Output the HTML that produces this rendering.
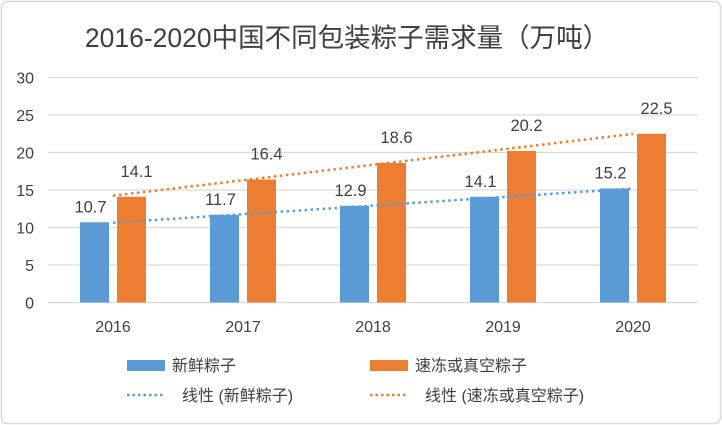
<!DOCTYPE html>
<html><head><meta charset="utf-8"><style>
body{margin:0;background:#fff;}
svg{display:block;font-family:"Liberation Sans","Noto Sans CJK SC",sans-serif;}
</style></head><body>
<svg id="chart" width="722" height="425" viewBox="0 0 722 425">
<rect x="1.5" y="1.5" width="719" height="422" rx="6" fill="#fff" stroke="#d9d9d9" stroke-width="1.5"/>
<text x="347" y="47" text-anchor="middle" font-size="26.5" fill="#404040">2016-2020中国不同包装粽子需求量（万吨）</text>
<g id="grid"></g><g id="bars"></g><g id="trends"></g><g id="labels"></g>
<g>
<rect x="127" y="360" width="38" height="11" fill="#5b9bd5"/>
<text x="172" y="371" font-size="16" fill="#404040">新鲜粽子</text>
<rect x="370" y="360" width="38" height="11" fill="#ed7d31"/>
<text x="415" y="371" font-size="16" fill="#404040">速冻或真空粽子</text>
<line x1="127" y1="395" x2="165" y2="395" stroke="#5b9bd5" stroke-width="2.5" stroke-dasharray="2.5 3"/>
<text x="182" y="401" font-size="16" fill="#404040">线性 (新鲜粽子)</text>
<line x1="370" y1="395" x2="408" y2="395" stroke="#ed7d31" stroke-width="2.5" stroke-dasharray="2.5 3"/>
<text x="425" y="401" font-size="16" fill="#404040">线性 (速冻或真空粽子)</text>
</g>
</svg>
<script>
const categories=["2016","2017","2018","2019","2020"];
const freshValues=[10.7,11.7,12.9,14.1,15.2];
const frozenValues=[14.1,16.4,18.6,20.2,22.5];
const yTicks=[0,5,10,15,20,25,30];
const NS="http://www.w3.org/2000/svg";
const plotL=48,plotR=698,y0=302.5,yTop=77.5,yMax=30;
const yS=v=>y0-(y0-yTop)*v/yMax;
const band=(plotR-plotL)/categories.length;
const xC=i=>plotL+band*(i+0.5);
function mk(tag,attrs,parent){const e=document.createElementNS(NS,tag);for(const k in attrs)e.setAttribute(k,attrs[k]);parent.appendChild(e);return e;}
const grid=document.getElementById('grid'),bars=document.getElementById('bars'),trends=document.getElementById('trends'),labels=document.getElementById('labels');
yTicks.forEach(t=>{
 const l=mk('line',{x1:plotL,x2:plotR,y1:yS(t),y2:yS(t),stroke:'#d9d9d9','stroke-width':1.3},grid);
 
 
 const tx=mk('text',{x:34,y:yS(t)+6,'text-anchor':'end','font-size':16,fill:'#404040'},grid);
 tx.textContent=t;
 
 
});
const bw=29,gap=8;
categories.forEach((c,i)=>{
 const cx=xC(i);
 const bx1=cx-gap/2-bw, bx2=cx+gap/2;
 const b1=mk('rect',{x:bx1,y:yS(freshValues[i]),width:bw,height:y0-yS(freshValues[i]),fill:'#5b9bd5'},bars);
 
 
 const b2=mk('rect',{x:bx2,y:yS(frozenValues[i]),width:bw,height:y0-yS(frozenValues[i]),fill:'#ed7d31'},bars);
 
 
 const t1=mk('text',{x:bx1+bw/2-4,y:yS(freshValues[i])-10,'text-anchor':'middle','font-size':16.5,fill:'#404040'},labels);
 t1.textContent=freshValues[i].toFixed(1);
 
 
 const t2=mk('text',{x:bx2+bw/2+5,y:yS(frozenValues[i])-20,'text-anchor':'middle','font-size':16.5,fill:'#404040'},labels);
 t2.textContent=frozenValues[i].toFixed(1);
 
 
 const xl=mk('text',{x:cx,y:332,'text-anchor':'middle','font-size':16,fill:'#404040'},labels);
 xl.textContent=c;
 
 
});
function fit(v){const n=v.length;const mx=(n-1)/2;const my=v.reduce((a,b)=>a+b,0)/n;let num=0,den=0;v.forEach((y,i)=>{num+=(i-mx)*(y-my);den+=(i-mx)**2;});const s=num/den;return [my-s*mx,s];}
[[freshValues,'#5b9bd5','trend-fresh'],[frozenValues,'#ed7d31','trend-frozen']].forEach(([v,col,name])=>{
 const [a,s]=fit(v);const n=v.length-1;
 const l=mk('line',{x1:xC(0),y1:yS(a),x2:xC(n),y2:yS(a+s*n),stroke:col,'stroke-width':2.5,'stroke-dasharray':'2.5 3.5'},trends);
 
 
});
</script>
</body></html>
